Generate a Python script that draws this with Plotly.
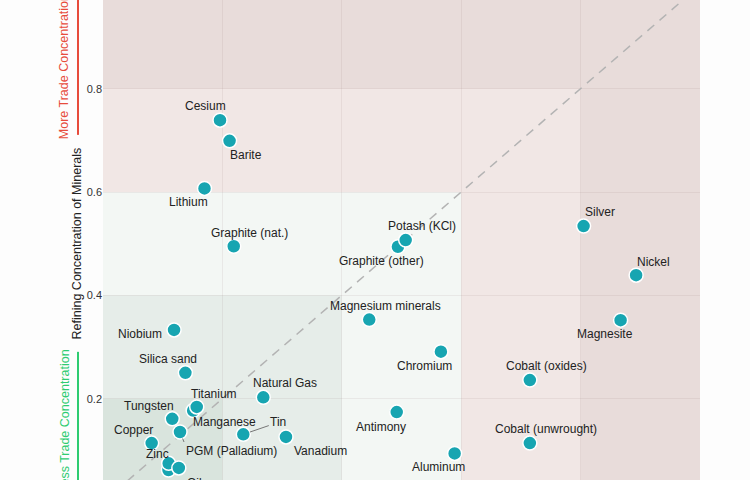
import plotly.graph_objects as go

# ---------------- data ----------------
minerals = [
    "Cesium", "Barite", "Lithium", "Graphite (nat.)", "Graphite (other)", "Potash (KCl)",
    "Magnesium minerals", "Chromium", "Cobalt (oxides)", "Antimony", "Cobalt (unwrought)",
    "Aluminum", "Silver", "Nickel", "Magnesite", "Niobium", "Silica sand", "Manganese",
    "Titanium", "Tungsten", "PGM (Palladium)", "Copper", "", "Zinc", "Oil", "Natural Gas",
    "Tin", "Vanadium",
]
mining_conc = [
    0.196, 0.212, 0.170, 0.219, 0.494, 0.507,
    0.446, 0.566, 0.715, 0.492, 0.715,
    0.589, 0.805, 0.893, 0.867, 0.119, 0.138, 0.151,
    0.157, 0.116, 0.129, 0.0815, 0.1097, 0.110, 0.127, 0.2685,
    0.235, 0.3065,
]
refining_conc = [
    0.739, 0.699, 0.607, 0.495, 0.494, 0.507,
    0.353, 0.291, 0.236, 0.174, 0.114,
    0.094, 0.534, 0.439, 0.352, 0.333, 0.250, 0.177,
    0.184, 0.161, 0.1355, 0.114, 0.062, 0.0748, 0.066, 0.2026,
    0.131, 0.126,
]
y_ticks = [0.2, 0.4, 0.6, 0.8]
x_ticks = [0.2, 0.4, 0.6, 0.8]
zone_edges = [1.0, 0.8, 0.6, 0.4, 0.2]

# ---------------- styling ----------------
FONT = "Arial, 'Liberation Sans', Helvetica, sans-serif"
MARKER = "#17a5b1"
zone_colors = ["#e8dcda", "#f1e7e5", "#f3f7f4", "#e6ede9", "#d9e4dd"]

# label placement (pixels): (xshift, yshift, xanchor)
label_pos = {
    "Cesium": (-15, 14, "center"), "Barite": (16, -14, "center"), "Lithium": (-16, -14, "center"),
    "Graphite (nat.)": (16, 13, "center"), "Potash (KCl)": (16, 14, "center"),
    "Graphite (other)": (-16, -14, "center"), "Magnesium minerals": (16, 14, "center"),
    "Chromium": (-16, -14, "center"), "Cobalt (oxides)": (17, 14, "center"),
    "Antimony": (-16, -15, "center"), "Cobalt (unwrought)": (16, 14, "center"),
    "Aluminum": (-16, -14, "center"), "Silver": (16, 14, "center"), "Nickel": (17, 13, "center"),
    "Magnesite": (-16, -14, "center"), "Niobium": (-10, -4, "right"),
    "Silica sand": (-17, 14, "center"), "Titanium": (17, 13, "center"),
    "Manganese": (-2, -11, "left"), "Tungsten": (-23, 13, "center"),
    "Copper": (-18, 13, "center"), "Zinc": (-11, 9, "center"), "Oil": (16, -15, "center"),
    "Natural Gas": (22, 14, "center"), "Vanadium": (35, -14, "center"),
}
# labels with leader lines: (ax, ay, xanchor, yanchor)
leader_pos = {
    "PGM (Palladium)": (4, 10, "left", "top"),
    "Tin": (35, -12, "center", "middle"),
}

fig = go.Figure()

# dashed parity line y = x
fig.add_trace(go.Scatter(
    x=[0, 1], y=[0, 1], mode="lines",
    line=dict(color="#b3b3b3", width=1.5, dash="9px,7px"),
    hoverinfo="skip", showlegend=False,
))

fig.add_trace(go.Scatter(
    x=mining_conc, y=refining_conc, mode="markers", text=minerals,
    marker=dict(size=14, color=MARKER, line=dict(color="white", width=1.5)),
    showlegend=False,
))

# concentration zones (nested squares from the origin)
for edge, col in zip(zone_edges, zone_colors):
    fig.add_shape(type="rect", xref="x", yref="y", x0=0, y0=0, x1=edge, y1=edge,
                  fillcolor=col, line=dict(width=0), layer="below")

annotations = []
for name, xv, yv in zip(minerals, mining_conc, refining_conc):
    if not name:
        continue
    if name in leader_pos:
        ax, ay, xa, ya = leader_pos[name]
        annotations.append(dict(
            x=xv, y=yv, xref="x", yref="y", text=name, showarrow=True,
            ax=ax, ay=ay, xanchor=xa, yanchor=ya, arrowhead=0, arrowwidth=1,
            arrowcolor="#777777", standoff=7,
            font=dict(family=FONT, size=12, color="#222222"),
        ))
    else:
        dx, dy, xa = label_pos[name]
        annotations.append(dict(
            x=xv, y=yv, xref="x", yref="y", text=name, showarrow=False,
            xshift=dx, yshift=dy, xanchor=xa, yanchor="middle",
            font=dict(family=FONT, size=12, color="#222222"),
        ))

# axis title and trade-concentration guides (paper coords: plot spans 103..700 x, 0..480 y)
annotations.append(dict(
    x=-0.0436, y=0.4927, xref="paper", yref="paper", text="Refining Concentration of Minerals",
    textangle=-90, showarrow=False, xanchor="center", yanchor="middle",
    font=dict(family=FONT, size=12.5, color="#222222"),
))
annotations.append(dict(
    x=-0.0653, y=0.7048, xref="paper", yref="paper", text="More Trade Concentration",
    textangle=-90, showarrow=False, xanchor="center", yanchor="bottom",
    font=dict(family=FONT, size=12.5, color="#e74c3c"),
))
annotations.append(dict(
    x=-0.0653, y=0.275, xref="paper", yref="paper", text="Less Trade Concentration",
    textangle=-90, showarrow=False, xanchor="center", yanchor="top",
    font=dict(family=FONT, size=12.5, color="#2ecc71"),
))
fig.add_shape(type="line", xref="paper", yref="paper", x0=-0.0419, x1=-0.0419,
              y0=0.719, y1=1.1, line=dict(color="#e74c3c", width=2))
fig.add_shape(type="line", xref="paper", yref="paper", x0=-0.0419, x1=-0.0419,
              y0=0.267, y1=-0.2, line=dict(color="#2ecc71", width=2))

fig.update_layout(
    width=750, height=480,
    margin=dict(l=103, r=50, t=0, b=0, autoexpand=False),
    paper_bgcolor="#fdfdfd", plot_bgcolor="#fdfdfd",
    font=dict(family=FONT, size=11, color="#444444"),
    annotations=annotations,
    hovermode="closest",
)
fig.update_xaxes(range=[0, 1], tickvals=x_ticks, showticklabels=False,
                 showgrid=True, gridcolor="rgba(140,110,110,0.10)", gridwidth=1,
                 zeroline=False, showline=False, automargin=False)
fig.update_yaxes(range=[0.0426, 0.9716], tickvals=y_ticks, ticktext=[str(v) for v in y_ticks],
                 showgrid=True, gridcolor="rgba(140,110,110,0.10)", gridwidth=1,
                 zeroline=False, showline=False, automargin=False,
                 tickfont=dict(family=FONT, size=11, color="#333333"))

fig.write_html("out.html", config={"displayModeBar": False},
               post_script="document.body.style.margin='0';")
